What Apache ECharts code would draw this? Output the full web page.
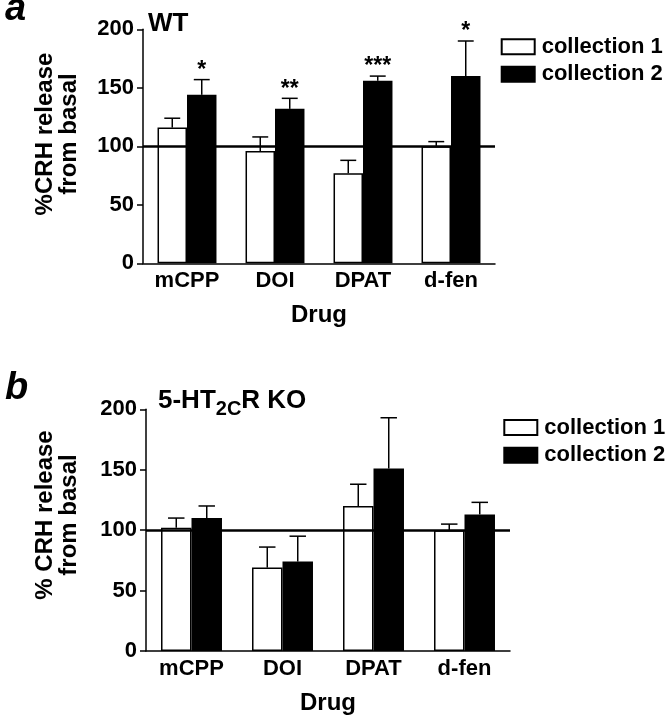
<!DOCTYPE html>
<html>
<head>
<meta charset="utf-8">
<script src="https://cdn.jsdelivr.net/npm/echarts@6/dist/echarts.min.js"></script>
<style>html,body{margin:0;padding:0;background:#fff;}#c{width:671px;height:720px;}</style>
</head>
<body>
<div id="c"></div>
<script>
// ---- data ----
const categories = ['mCPP', 'DOI', 'DPAT', 'd-fen'];
const seriesNames = ['collection 1', 'collection 2'];
// panel a: WT
const wtCol1 = [116, 96, 77, 100];
const wtCol1Err = [8, 12, 11, 4];
const wtCol2 = [144, 132, 156, 160];
const wtCol2Err = [13, 9, 4, 30];
const wtSig2 = ['*', '**', '***', '*'];
// panel b: 5-HT2CR KO
const koCol1 = [102, 69, 120, 100];
const koCol1Err = [8, 17, 18, 5];
const koCol2 = [110, 74, 151, 113];
const koCol2Err = [10, 21, 42, 10];
const yMin = 0, yMax = 200, yStep = 50;
const baseline = 100;

const FONT = '"Liberation Sans", Arial, Helvetica, sans-serif';
const CAT_GAP = 0.33;

function measure(text, size) {
  const ctx = document.createElement('canvas').getContext('2d');
  ctx.font = 'bold ' + size + 'px ' + FONT;
  return ctx.measureText(text).width;
}

function barSeries(name, gi, vals, white) {
  return {
    name: name, type: 'bar', xAxisIndex: gi, yAxisIndex: gi,
    data: vals, barGap: '0%', barCategoryGap: (CAT_GAP * 100) + '%',
    itemStyle: { color: white ? '#fff' : '#000', borderColor: '#000', borderWidth: 1.5 },
    emphasis: { disabled: true }, z: 2
  };
}

function errSeries(gi, side, vals, errs, sigs) {
  return {
    type: 'custom', xAxisIndex: gi, yAxisIndex: gi, z: 5, silent: true,
    data: vals.map((v, i) => [i, v, errs[i]]),
    renderItem: function (params, api) {
      const c = api.value(0), v = api.value(1), e = api.value(2);
      const p0 = api.coord([c, v]);
      const p1 = api.coord([c, v + e]);
      const band = api.size([1, 0])[0];
      const bw = band * (1 - CAT_GAP) / 2;
      const x = p0[0] + (side === 0 ? -bw / 2 : bw / 2);
      const hc = bw * 0.27;
      const children = [
        { type: 'line', shape: { x1: x, y1: p0[1], x2: x, y2: p1[1] }, style: { stroke: '#000', lineWidth: 1.5 } },
        { type: 'line', shape: { x1: x - hc, y1: p1[1], x2: x + hc, y2: p1[1] }, style: { stroke: '#000', lineWidth: 1.5 } }
      ];
      const sig = sigs ? sigs[params.dataIndex] : '';
      if (sig) {
        children.push({
          type: 'text', x: x, y: p1[1] - 9,
          style: { text: sig, fill: '#000', font: 'bold 23px ' + FONT,
                   align: 'center', verticalAlign: 'middle', textAlign: 'center', textVerticalAlign: 'middle' }
        });
      }
      return { type: 'group', children: children };
    }
  };
}

function xAx(gi) {
  return {
    type: 'category', gridIndex: gi, data: categories,
    axisLine: { show: true, lineStyle: { color: '#000', width: 1.5 } },
    axisTick: { show: false },
    axisLabel: { color: '#000', fontFamily: FONT, fontWeight: 'bold', fontSize: 22, margin: 7 },
    name: 'Drug', nameLocation: 'middle', nameGap: 40,
    nameTextStyle: { color: '#000', fontFamily: FONT, fontWeight: 'bold', fontSize: 24 }
  };
}
function yAx(gi) {
  return {
    type: 'value', gridIndex: gi, min: yMin, max: yMax, interval: yStep,
    axisLine: { show: true, lineStyle: { color: '#000', width: 1.5 } },
    axisTick: { show: true, length: 6, lineStyle: { color: '#000', width: 1.5 } },
    axisLabel: { color: '#000', fontFamily: FONT, fontWeight: 'bold', fontSize: 22, margin: 9 },
    splitLine: { show: false }
  };
}

const refLine = {
  silent: true, symbol: ['none', 'none'], label: { show: false },
  lineStyle: { color: '#000', width: 2.5, type: 'solid' },
  emphasis: { disabled: true },
  data: [{ yAxis: baseline }]
};

const s1 = barSeries(seriesNames[0], 0, wtCol1, true);
const s2 = barSeries(seriesNames[1], 0, wtCol2, false);
const s3 = barSeries(seriesNames[0], 1, koCol1, true);
const s4 = barSeries(seriesNames[1], 1, koCol2, false);
const e1 = errSeries(0, 0, wtCol1, wtCol1Err, null);
const e2 = errSeries(0, 1, wtCol2, wtCol2Err, wtSig2);
const e3 = errSeries(1, 0, koCol1, koCol1Err, null);
const e4 = errSeries(1, 1, koCol2, koCol2Err, null);
e2.markLine = refLine;
e4.markLine = JSON.parse(JSON.stringify(refLine));

function legend(left, top, gap) {
  return {
    orient: 'vertical', left: left, top: top, padding: 0, itemGap: gap,
    itemWidth: 33, itemHeight: 15, icon: 'rect', selectedMode: false,
    data: seriesNames,
    textStyle: { color: '#000', fontFamily: FONT, fontWeight: 'bold', fontSize: 22, lineHeight: 22, padding: [0, 0, 0, 2] }
  };
}

// title pieces for panel b
const koMainSize = 26, koSubSize = 20;
const koX0 = 158;
const koX1 = koX0 + measure('5-HT', koMainSize);
const koX2 = koX1 + measure('2C', koSubSize);

function txt(text, x, y, size, opts) {
  opts = opts || {};
  return {
    type: 'text', x: x, y: y, rotation: opts.rotation || 0, silent: true,
    style: {
      text: text, fill: '#000',
      font: (opts.italic ? 'italic ' : '') + 'bold ' + size + 'px ' + FONT,
      align: opts.align || 'left', textAlign: opts.align || 'left',
      verticalAlign: 'middle', textVerticalAlign: 'middle',
      lineHeight: opts.lineHeight || size
    }
  };
}

const option = {
  animation: false,
  backgroundColor: '#fff',
  grid: [
    { left: 143, right: 176, top: 29.3, height: 234, outerBoundsMode: 'none', containLabel: false },
    { left: 146, right: 161, top: 409.3, height: 241.7, outerBoundsMode: 'none', containLabel: false }
  ],
  xAxis: [xAx(0), xAx(1)],
  yAxis: [yAx(0), yAx(1)],
  legend: [legend(500.7, 35.8, 5.4), legend(503.3, 416.5, 5.7)],
  series: [s1, s2, s3, s4, e1, e2, e3, e4],
  graphic: [
    txt('a', 5, 10, 38, { italic: true }),
    txt('b', 5, 389, 38, { italic: true }),
    txt('WT', 148, 23.5, 26),
    txt('5-HT', koX0, 400.7, koMainSize),
    txt('2C', koX1, 409.8, koSubSize),
    txt('R KO', koX2, 400.7, koMainSize),
    txt('%CRH release\nfrom basal', 57, 134, 24, { rotation: Math.PI / 2, align: 'center', lineHeight: 24 }),
    txt('% CRH release\nfrom basal', 57, 515, 24, { rotation: Math.PI / 2, align: 'center', lineHeight: 24 })
  ]
};

const chart = echarts.init(document.getElementById('c'), null, { renderer: 'canvas' });
chart.setOption(option);
</script>
</body>
</html>
